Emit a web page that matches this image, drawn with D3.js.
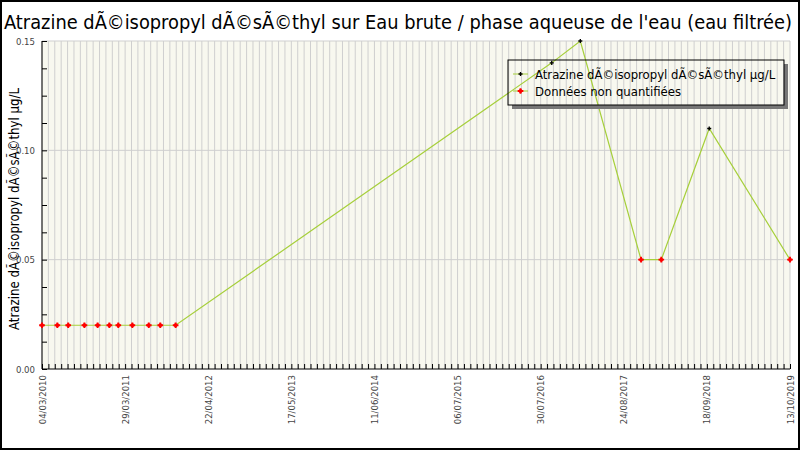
<!DOCTYPE html>
<html>
<head>
<meta charset="utf-8">
<script src="https://cdn.jsdelivr.net/npm/d3@7"></script>
<style>
  body { margin: 0; background: #fff; }
  svg text { font-family: "DejaVu Sans Condensed", "DejaVu Sans", sans-serif; }
</style>
</head>
<body>
<svg id="chart"></svg>
<script>
// Sample dates (dd/mm/yyyy), values in µg/L, and whether the value was quantified
const sampleDates = [
  '04/03/2010', '15/05/2010', '05/07/2010', '19/09/2010', '20/11/2010',
  '14/01/2011', '25/02/2011', '02/05/2011', '18/07/2011', '10/09/2011',
  '21/11/2011', '20/09/2016', '01/02/2017', '13/11/2017', '16/02/2018',
  '29/09/2018', '13/10/2019'
];
const sampleValues = [
  0.02, 0.02, 0.02, 0.02, 0.02,
  0.02, 0.02, 0.02, 0.02, 0.02,
  0.02, 0.14, 0.15, 0.05, 0.05,
  0.11, 0.05
];
const quantified = [
  false, false, false, false, false,
  false, false, false, false, false,
  false, true, true, false, false,
  true, false
];
const xTickLabels = [
  '04/03/2010', '29/03/2011', '22/04/2012', '17/05/2013', '11/06/2014',
  '06/07/2015', '30/07/2016', '24/08/2017', '18/09/2018', '13/10/2019'
];
const yTickLabels = ['0.00', '0.05', '0.10', '0.15'];

const titleText = "Atrazine dÃ©isopropyl dÃ©sÃ©thyl sur Eau brute / phase aqueuse de l'eau (eau filtrée)";
const yLabelText = 'Atrazine dÃ©isopropyl dÃ©sÃ©thyl µg/L';
const legendLabels = ['Atrazine dÃ©isopropyl dÃ©sÃ©thyl µg/L', 'Données non quantifiées'];

const config = {
  width: 800,
  height: 450,
  margin: { top: 41, right: 10, bottom: 81, left: 42 }
};

const LINE_COLOR = '#a6cf3a';
const GRID_COLOR = '#cfcfcf';
const TICK_FONT = '9.5px';

const parseDate = d3.utcParse('%d/%m/%Y');
const data = sampleDates.map((d, i) => ({
  date: parseDate(d),
  value: sampleValues[i],
  quantified: quantified[i]
}));

const innerW = config.width - config.margin.left - config.margin.right;
const innerH = config.height - config.margin.top - config.margin.bottom;

const svg = d3.select('#chart')
  .attr('width', config.width)
  .attr('height', config.height);

// outer frame
svg.append('rect')
  .attr('x', 1).attr('y', 1)
  .attr('width', config.width - 2).attr('height', config.height - 2)
  .attr('fill', '#fff')
  .attr('stroke', '#000')
  .attr('stroke-width', 2);

const chart = svg.append('g')
  .attr('transform', `translate(${config.margin.left},${config.margin.top})`);

const xScale = d3.scaleUtc()
  .domain(d3.extent(data, d => d.date))
  .range([0, innerW]);

const yScale = d3.scaleLinear()
  .domain([0, 0.15])
  .range([innerH, 0]);

// plot background
chart.append('rect')
  .attr('width', innerW)
  .attr('height', innerH)
  .attr('fill', '#f8f8ef');

// minor ticks every 30 days, labels every 390 days
const [d0, d1] = xScale.domain();
const minorTicks = d3.utcDay.every(1).range(d0, d3.utcDay.offset(d1, 1))
  .filter(d => Math.round((d - d0) / 864e5) % 30 === 0);
const majorTicks = xTickLabels.map(parseDate);
const yMajor = yTickLabels.map(Number);

// vertical grid
chart.append('g')
  .selectAll('line')
  .data(minorTicks)
  .join('line')
  .attr('x1', d => xScale(d)).attr('x2', d => xScale(d))
  .attr('y1', 0).attr('y2', innerH)
  .attr('stroke', GRID_COLOR)
  .attr('stroke-width', 1);

// horizontal grid
chart.append('g')
  .selectAll('line')
  .data(yMajor.filter(v => v > 0))
  .join('line')
  .attr('x1', 0).attr('x2', innerW)
  .attr('y1', d => yScale(d)).attr('y2', d => yScale(d))
  .attr('stroke', GRID_COLOR)
  .attr('stroke-width', 1);

// axes
const yAxis = d3.axisLeft(yScale)
  .tickValues(d3.range(0, 0.1501, 0.0125))
  .tickSize(-5)
  .tickFormat(d => {
    const s = d3.format('.2f')(d);
    return yMajor.some(v => Math.abs(v - d) < 1e-9) ? s : '';
  });

const yAxisG = chart.append('g').call(yAxis);
yAxisG.select('.domain').attr('stroke', '#000').attr('d', `M0,0V${innerH}`);
yAxisG.selectAll('.tick line').attr('stroke', '#000');
yAxisG.selectAll('.tick text')
  .attr('x', -7)
  .attr('fill', '#444')
  .style('font-family', '"DejaVu Sans Condensed", sans-serif')
  .style('font-size', TICK_FONT);

const xAxis = d3.axisBottom(xScale)
  .tickValues(minorTicks)
  .tickSize(-5)
  .tickFormat('');

const xAxisG = chart.append('g')
  .attr('transform', `translate(0,${innerH})`)
  .call(xAxis);
xAxisG.select('.domain').attr('stroke', '#000').attr('d', `M0,0H${innerW}`);
xAxisG.selectAll('.tick line').attr('stroke', '#000');

chart.append('g')
  .attr('transform', `translate(0,${innerH})`)
  .selectAll('text')
  .data(majorTicks)
  .join('text')
  .attr('transform', d => `translate(${xScale(d) + 3.5},6) rotate(-90)`)
  .attr('text-anchor', 'end')
  .attr('fill', '#444')
  .style('font-size', TICK_FONT)
  .text((d, i) => xTickLabels[i]);

// series line
const line = d3.line()
  .x(d => xScale(d.date))
  .y(d => yScale(d.value));

chart.append('path')
  .datum(data)
  .attr('fill', 'none')
  .attr('stroke', LINE_COLOR)
  .attr('stroke-width', 1.2)
  .attr('d', line);

const crossSmall = d3.symbol().type(d3.symbolCross).size(9);
const crossRed = d3.symbol().type(d3.symbolCross).size(18);

function drawMarker(sel, q) {
  if (q) {
    sel.append('path').attr('d', crossSmall()).attr('fill', '#000');
  } else {
    sel.append('path').attr('d', crossRed()).attr('fill', '#ff0000');
    sel.append('circle').attr('r', 1.9).attr('fill', '#ff0000');
  }
}

chart.append('g')
  .selectAll('g')
  .data(data)
  .join('g')
  .attr('transform', d => `translate(${xScale(d.date)},${yScale(d.value)})`)
  .each(function (d) { drawMarker(d3.select(this), d.quantified); });

// title
svg.append('text')
  .attr('x', 4)
  .attr('y', 29)
  .attr('textLength', 788)
  .attr('lengthAdjust', 'spacingAndGlyphs')
  .style('font-size', '20px')
  .attr('fill', '#000')
  .text(titleText);

// y label
svg.append('text')
  .attr('transform', `translate(19,${config.margin.top + innerH / 2 + 4}) rotate(-90)`)
  .attr('text-anchor', 'middle')
  .attr('textLength', 242)
  .attr('lengthAdjust', 'spacingAndGlyphs')
  .style('font-size', '14px')
  .attr('fill', '#000')
  .text(yLabelText);

// legend (transparent box with drop shadow on right/bottom)
const legend = svg.append('g').attr('transform', 'translate(508,60)');
const legW = 276, legH = 45, sh = 4;
legend.append('rect')
  .attr('x', legW).attr('y', sh)
  .attr('width', sh).attr('height', legH)
  .attr('fill', '#777');
legend.append('rect')
  .attr('x', sh).attr('y', legH)
  .attr('width', legW).attr('height', sh)
  .attr('fill', '#777');
legend.append('rect')
  .attr('width', legW).attr('height', legH)
  .attr('fill', 'none')
  .attr('stroke', '#000')
  .attr('stroke-width', 1);

const legItems = legend.selectAll('.leg-item')
  .data(legendLabels)
  .join('g')
  .attr('class', 'leg-item')
  .attr('transform', (d, i) => `translate(0,${14 + i * 17})`);

legItems.append('line')
  .attr('x1', 5).attr('x2', 20)
  .attr('stroke', LINE_COLOR);
legItems.append('g')
  .attr('transform', 'translate(12.5,0)')
  .each(function (d, i) { drawMarker(d3.select(this), i === 0); });
legItems.append('text')
  .attr('x', 27)
  .attr('dy', '0.35em')
  .style('font-size', '13px')
  .attr('fill', '#000')
  .text(d => d);
</script>
</body>
</html>
